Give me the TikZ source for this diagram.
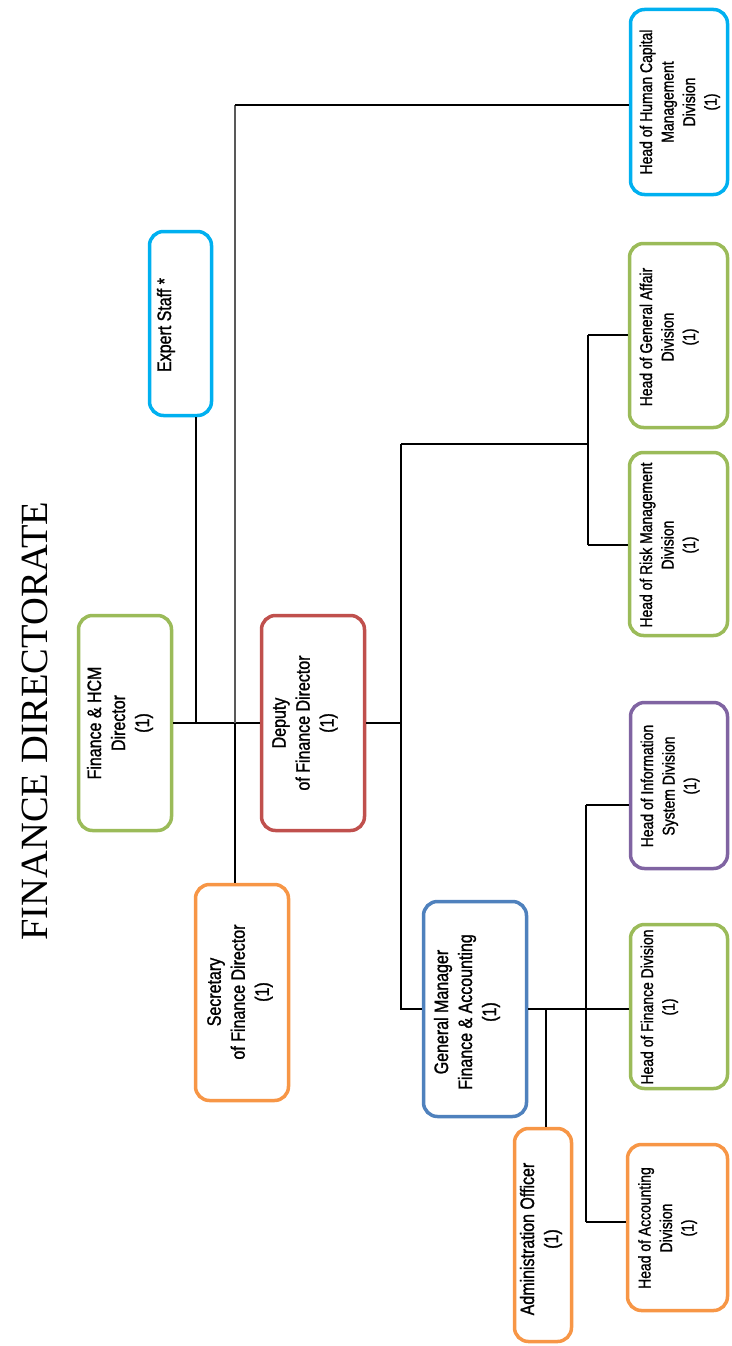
\documentclass[tikz,border=0pt]{standalone}
\usepackage{fontspec}
\setmainfont{Liberation Sans}
\newfontfamily\titlefont{Liberation Serif}
\newfontfamily\narrowfont[FakeStretch=0.82,FakeBold=1.2]{Liberation Sans}
\definecolor{cgreen}{HTML}{9BBB59}
\definecolor{cred}{HTML}{C0504D}
\definecolor{ccyan}{HTML}{00B0F0}
\definecolor{corange}{HTML}{F79646}
\definecolor{cblue}{HTML}{4F81BD}
\definecolor{cpurple}{HTML}{8064A2}
\tikzset{
  box/.style={draw=#1, line width=3.5pt, rounded corners=14pt, rectangle, inner sep=0pt, fill=white},
  bigtxt/.style={rotate=90, align=center, inner sep=0pt, font=\narrowfont\fontsize{19.5}{24}\selectfont},
  smalltxt/.style={rotate=90, align=center, inner sep=0pt, anchor=north, font=\narrowfont\fontsize{17}{21.5}\selectfont},
  conn/.style={draw=black, line width=1.4pt},
}
\begin{document}
\begin{tikzpicture}[x=1pt,y=-1pt]
\useasboundingbox (0,0) rectangle (731,1346);
% title
\node[rotate=90, inner sep=0pt, font=\titlefont\fontsize{38.5}{40}\selectfont] (title) at (35,721) {FINANCE DIRECTORATE};
% boxes
\node[box=cgreen, minimum width=93pt, minimum height=215pt] (fin) at (125,723) {};
\node[box=cred, minimum width=103pt, minimum height=215pt] (dep) at (313,723) {};
\node[box=ccyan, minimum width=62pt, minimum height=184pt] (exp) at (180.5,323.5) {};
\node[box=corange, minimum width=93pt, minimum height=216pt] (sec) at (242,992.5) {};
\node[box=cblue, minimum width=103pt, minimum height=215pt] (gm) at (475,1009) {};
\node[box=corange, minimum width=57pt, minimum height=213pt] (adm) at (543,1235) {};
\node[box=corange, minimum width=100pt, minimum height=166pt] (acc) at (677.5,1227.5) {};
\node[box=ccyan, minimum width=97pt, minimum height=185pt] (hcm) at (679,102) {};
\node[box=cgreen, minimum width=98pt, minimum height=184pt] (ga) at (678.5,335.5) {};
\node[box=cgreen, minimum width=98pt, minimum height=183pt] (rm) at (678.5,544) {};
\node[box=cpurple, minimum width=97pt, minimum height=166pt] (is) at (679,785.5) {};
\node[box=cgreen, minimum width=97pt, minimum height=164pt] (fd) at (679,1006.5) {};
% texts
\node[bigtxt] (tfin) at (120,723) {Finance \& HCM\\Director\\(1)};
\node[bigtxt] (tdep) at (305,723) {Deputy\\of Finance Director\\(1)};
\node[bigtxt] (texp) at (166,325) {Expert Staff *};
\node[bigtxt] (tsec) at (240,992) {Secretary\\of Finance Director\\(1)};
\node[bigtxt] (tgm) at (467,1012) {General Manager\\Finance \& Accounting\\(1)};
\node[bigtxt] (tadm) at (541,1239) {Administration Officer\\(1)};
\node[smalltxt] (tacc) at (638,1228) {Head of Accounting\\Division\\(1)};
\node[smalltxt] (thcm) at (639.5,102) {Head of Human Capital\\Management\\Division\\(1)};
\node[smalltxt] (tga) at (639.5,337) {Head of General Affair\\Division\\(1)};
\node[smalltxt] (trm) at (639.5,545) {Head of Risk Management\\Division\\(1)};
\node[smalltxt] (tis) at (640.5,786) {Head of Information\\System Division\\(1)};
\node[smalltxt] (tfd) at (640.5,1007) {Head of Finance Division\\(1)};
% connectors
\coordinate (jE) at (196,723);
\coordinate (jT) at (235,105);
\coordinate (jM) at (235,723);
\coordinate (d1) at (401,723);
\coordinate (dTop) at (401,444);
\coordinate (dBot) at (401,1009);
\coordinate (rJ) at (588,444);
\coordinate (rTop) at (588,335);
\coordinate (rBot) at (588,545);
\coordinate (gA) at (546,1009);
\coordinate (v1) at (586,805);
\coordinate (v2) at (586,1222);
\draw[conn] (fin.east) -- (dep.west);
\draw[conn] (jE) -- (jE |- exp.south);
\draw[conn, draw=black!65, line width=1.8pt] (jT) -- (jM);
\draw[conn] (jM) -- (jM |- sec.north);
\draw[conn] (jT) -- (hcm.west |- jT);
\draw[conn] (dep.east) -- (d1);
\draw[conn] (dTop) -- (dBot) -- (gm.west |- dBot);
\draw[conn] (dTop) -- (rJ);
\draw[conn] (rTop) -- (rBot);
\draw[conn] (rTop) -- (ga.west |- rTop);
\draw[conn] (rBot) -- (rm.west |- rBot);
\draw[conn] (gm.east) -- (fd.west |- gm.east);
\draw[conn] (gA) -- (gA |- adm.north);
\draw[conn] (v1) -- (v2);
\draw[conn] (v1) -- (is.west |- v1);
\draw[conn] (v2) -- (acc.west |- v2);
\end{tikzpicture}
\end{document}
